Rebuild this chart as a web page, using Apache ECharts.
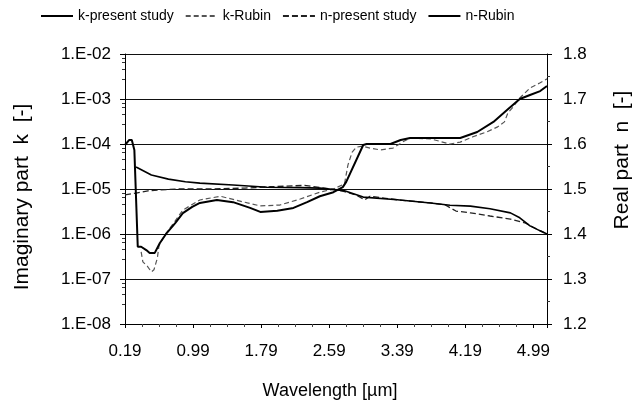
<!DOCTYPE html>
<html><head><meta charset="utf-8">
<script src="https://cdn.jsdelivr.net/npm/echarts@6/dist/echarts.min.js"></script>
<style>html,body{margin:0;padding:0;background:#fff}#c{width:642px;height:403px}</style>
</head><body><div id="c"></div>
<script>
// wavelength [µm] and imaginary part k
const kPresentX = [0.19,0.24,0.27,0.30,0.34,0.38,0.44,0.48,0.54,0.60,0.68,0.78,0.87,0.98,1.07,1.27,1.46,1.66,1.78,1.98,2.17,2.33,2.48,2.64,2.75,2.79,2.99,3.03,3.31,3.43,3.54,4.13,4.33,4.52,4.68,4.83,4.95,5.07,5.15];
const kPresent  = [9.5e-5,1.23e-4,1.23e-4,7.4e-5,5.2e-7,5.2e-7,4.4e-7,3.8e-7,3.8e-7,6.3e-7,1.05e-6,1.75e-6,2.9e-6,4.0e-6,4.9e-6,5.7e-6,5.1e-6,3.8e-6,3.1e-6,3.3e-6,3.8e-6,5.1e-6,6.9e-6,8.5e-6,1.1e-5,1.44e-5,9.5e-5,1.0e-4,1.0e-4,1.23e-4,1.36e-4,1.36e-4,1.85e-4,3.1e-4,5.7e-4,1.0e-3,1.23e-3,1.5e-3,1.95e-3];
const kRubinX = [0.38,0.40,0.45,0.50,0.53,0.57,0.59,0.66,0.78,0.87,1.07,1.31,1.63,1.78,2.01,2.25,2.48,2.64,2.77,2.81,2.86,2.91,2.98,3.07,3.19,3.34,3.45,3.54,3.78,4.01,4.13,4.28,4.44,4.57,4.65,4.69,4.75,4.83,4.95,5.07,5.15];
const kRubin  = [4e-7,2.4e-7,1.95e-7,1.44e-7,1.6e-7,2.9e-7,5.6e-7,9.5e-7,1.95e-6,3.4e-6,5.7e-6,6.9e-6,4.9e-6,4.2e-6,4.4e-6,6e-6,8.5e-6,1e-5,1.3e-5,3.4e-5,6.6e-5,8.5e-5,9e-5,8.1e-5,7.4e-5,8.1e-5,1.1e-4,1.36e-4,1.3e-4,1.0e-4,1.1e-4,1.45e-4,1.85e-4,2.4e-4,3.1e-4,4.9e-4,6.6e-4,1.05e-3,1.75e-3,2.3e-3,2.8e-3];
// real part n
const nPresentX = [0.19,0.32,0.46,0.61,0.79,1.2,1.6,1.9,2.3,2.5,2.68,2.77,2.90,3.01,3.07,3.39,3.78,3.95,4.08,4.25,4.48,4.72,4.80,4.90,5.0,5.07,5.15];
const nPresent  = [1.487,1.491,1.496,1.498,1.500,1.500,1.502,1.505,1.508,1.503,1.498,1.494,1.487,1.476,1.484,1.476,1.469,1.465,1.451,1.447,1.44,1.433,1.429,1.424,1.414,1.407,1.400];
const nRubinX = [0.32,0.50,0.70,0.90,1.07,1.46,1.86,2.25,2.48,2.68,2.77,2.99,3.39,3.78,4.01,4.25,4.48,4.72,4.83,4.95,5.07,5.15];
const nRubin  = [1.549,1.531,1.522,1.516,1.513,1.509,1.504,1.503,1.502,1.498,1.496,1.482,1.476,1.469,1.464,1.462,1.456,1.447,1.436,1.418,1.407,1.400];
const xTickLabels = ['0.19','0.99','1.79','2.59','3.39','4.19','4.99'];
const kTickLabels = ['1.E-08','1.E-07','1.E-06','1.E-05','1.E-04','1.E-03','1.E-02'];
const nTickLabels = ['1.2','1.3','1.4','1.5','1.6','1.7','1.8'];

const zip = (xs, ys) => xs.map((x, i) => [x, ys[i]]);
const FONT = '"Liberation Sans", Arial, sans-serif';
const chart = echarts.init(document.getElementById('c'), null, {renderer: 'canvas'});
chart.setOption({
  animation: false,
  backgroundColor: '#fff',
  textStyle: {fontFamily: FONT, color: '#000'},
  legend: {
    left: 35, top: 4, itemWidth: 32, itemHeight: 10, itemGap: 11,
    itemStyle: {opacity: 0},
    textStyle: {fontFamily: FONT, fontSize: 14, color: '#000'},
    data: ['k-present study', 'k-Rubin', 'n-present study', 'n-Rubin']
  },
  grid: {left: 125, right: 95, top: 54, bottom: 79, containLabel: false},
  xAxis: {
    type: 'value', min: 0.19, max: 5.15, interval: 0.8,
    axisLine: {lineStyle: {color: '#000', width: 1}},
    axisTick: {show: true, length: 4, lineStyle: {color: '#000'}},
    minorTick: {show: true, splitNumber: 4, length: 3, lineStyle: {color: '#444'}},
    splitLine: {show: false},
    axisLabel: {
      fontFamily: FONT, fontSize: 17, color: '#000', margin: 19, showMaxLabel: false,
      formatter: v => { const i = Math.round((v - 0.19) / 0.8); return Math.abs(v - 0.19 - i * 0.8) < 1e-6 ? (xTickLabels[i] || '') : ''; }
    }
  },
  yAxis: [{
    type: 'log', logBase: 10, min: 1e-8, max: 1e-2,
    axisLine: {show: true, lineStyle: {color: '#000', width: 1}},
    axisTick: {show: true, length: 5, lineStyle: {color: '#000'}},
    minorTick: {show: true, splitNumber: 5, length: 3, lineStyle: {color: '#333'}},
    splitLine: {show: true, lineStyle: {color: '#111', width: 1}},
    axisLabel: {
      fontFamily: FONT, fontSize: 17, color: '#000', margin: 14,
      formatter: v => kTickLabels[Math.round(Math.log10(v)) + 8] || ''
    }
  }, {
    type: 'value', min: 1.2, max: 1.8, interval: 0.1, position: 'right',
    axisLine: {show: true, lineStyle: {color: '#000', width: 1}},
    axisTick: {show: true, length: 5, lineStyle: {color: '#000'}},
    minorTick: {show: true, splitNumber: 2, length: 3, lineStyle: {color: '#333'}},
    splitLine: {show: false},
    axisLabel: {
      fontFamily: FONT, fontSize: 17, color: '#000', margin: 16,
      formatter: v => nTickLabels[Math.round((v - 1.2) * 10)] || ''
    }
  }],
  graphic: [{
    type: 'text', rotation: Math.PI / 2,
    x: 22, y: 197,
    style: {text: 'Imaginary part  k  [-]', font: '21px ' + FONT, fill: '#000', textAlign: 'center', textVerticalAlign: 'middle'}
  }, {
    type: 'text', rotation: Math.PI / 2,
    x: 622, y: 160,
    style: {text: 'Real part  n  [-]', font: '21px ' + FONT, fill: '#000', textAlign: 'center', textVerticalAlign: 'middle'}
  }, {
    type: 'text', x: 330, y: 391,
    style: {text: 'Wavelength [\u00b5m]', font: '18px ' + FONT, fill: '#000', textAlign: 'center', textVerticalAlign: 'middle'}
  }],
  series: [{
    name: 'k-present study', type: 'line', yAxisIndex: 0, symbol: 'none', smooth: false,
    data: zip(kPresentX, kPresent),
    lineStyle: {color: '#000', width: 2}, itemStyle: {color: '#000'}, z: 5
  }, {
    name: 'k-Rubin', type: 'line', yAxisIndex: 0, symbol: 'none',
    data: zip(kRubinX, kRubin),
    lineStyle: {color: '#555', width: 1.2, type: [5, 3]}, itemStyle: {color: '#777'}, z: 4
  }, {
    name: 'n-present study', type: 'line', yAxisIndex: 1, symbol: 'none',
    data: zip(nPresentX, nPresent),
    lineStyle: {color: '#222', width: 1.3, type: [6, 3]}, itemStyle: {color: '#222'}, z: 4
  }, {
    name: 'n-Rubin', type: 'line', yAxisIndex: 1, symbol: 'none',
    data: zip(nRubinX, nRubin),
    lineStyle: {color: '#000', width: 1.6}, itemStyle: {color: '#000'}, z: 5
  }]
});
</script></body></html>
